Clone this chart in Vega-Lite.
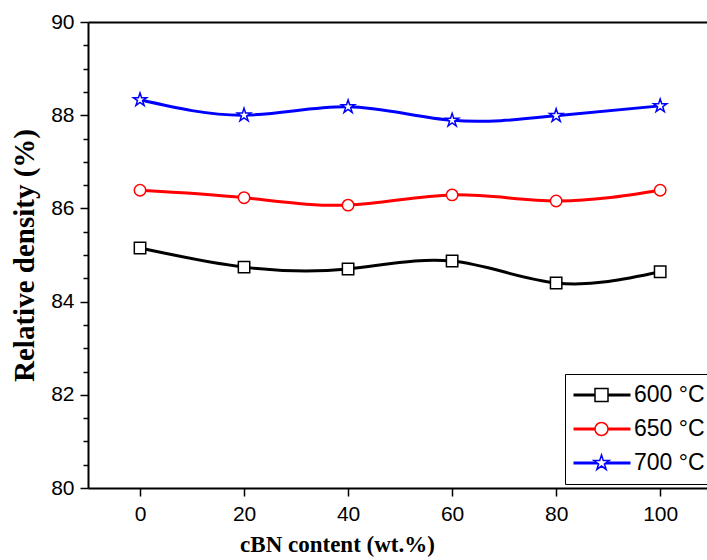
{
  "$schema": "https://vega.github.io/schema/vega-lite/v6.json",
  "width": 619,
  "height": 466,
  "autosize": {"type": "none"},
  "padding": {"left": 88, "top": 22, "right": 0, "bottom": 72},
  "background": "white",
  "config": {
    "view": {"stroke": null},
    "axis": {
      "domainColor": "black", "domainWidth": 2, "tickColor": "black", "tickWidth": 1.5,
      "labelColor": "black", "titleColor": "black", "labelFont": "Liberation Sans", "labelFontSize": 21,
      "titleFont": "Liberation Serif", "titleFontWeight": "bold", "grid": false
    }
  },
  "data": {
    "values": [
      {"cbn": 0, "density": 85.15, "temp": "600 °C"},
      {"cbn": 20, "density": 84.74, "temp": "600 °C"},
      {"cbn": 40, "density": 84.70, "temp": "600 °C"},
      {"cbn": 60, "density": 84.87, "temp": "600 °C"},
      {"cbn": 80, "density": 84.40, "temp": "600 °C"},
      {"cbn": 100, "density": 84.64, "temp": "600 °C"},
      {"cbn": 0, "density": 86.39, "temp": "650 °C"},
      {"cbn": 20, "density": 86.23, "temp": "650 °C"},
      {"cbn": 40, "density": 86.07, "temp": "650 °C"},
      {"cbn": 60, "density": 86.29, "temp": "650 °C"},
      {"cbn": 80, "density": 86.16, "temp": "650 °C"},
      {"cbn": 100, "density": 86.39, "temp": "650 °C"},
      {"cbn": 0, "density": 88.33, "temp": "700 °C"},
      {"cbn": 20, "density": 88.00, "temp": "700 °C"},
      {"cbn": 40, "density": 88.18, "temp": "700 °C"},
      {"cbn": 60, "density": 87.89, "temp": "700 °C"},
      {"cbn": 80, "density": 87.99, "temp": "700 °C"},
      {"cbn": 100, "density": 88.20, "temp": "700 °C"}
    ]
  },
  "layer": [
    {
      "mark": {"type": "line", "interpolate": "natural", "strokeWidth": 3},
      "encoding": {
        "x": {
          "field": "cbn", "type": "quantitative",
          "scale": {"domain": [-10, 109], "nice": false, "zero": false},
          "axis": {"orient": "bottom", "values": [0, 20, 40, 60, 80, 100], "tickSize": 8, "labelPadding": 7,
                   "title": "cBN content (wt.%)", "titleFontSize": 23, "titlePadding": 9, "titleX": 249, "titleAlign": "center"}
        },
        "y": {
          "field": "density", "type": "quantitative",
          "scale": {"domain": [80, 90], "nice": false, "zero": false},
          "axis": {
            "orient": "left",
            "values": [80, 80.5, 81, 81.5, 82, 82.5, 83, 83.5, 84, 84.5, 85, 85.5, 86, 86.5, 87, 87.5, 88, 88.5, 89, 89.5, 90],
            "labelExpr": "datum.value % 2 === 0 ? format(datum.value, 'd') : ''",
            "tickSize": {"condition": {"test": "datum.value % 2 === 0", "value": 8}, "value": 5},
            "labelPadding": 6,
            "title": "Relative density (%)", "titleFontSize": 29, "titlePadding": 11
          }
        },
        "stroke": {
          "field": "temp", "type": "nominal",
          "scale": {"domain": ["600 °C", "650 °C", "700 °C"], "range": ["#000000", "#ff0000", "#0000ff"]},
          "legend": {
            "orient": "none", "legendX": 477, "legendY": 352, "title": null, "direction": "vertical",
            "symbolType": "stroke", "symbolSize": 3249, "symbolStrokeWidth": 3, "clipHeight": 28,
            "rowPadding": 6, "padding": 7, "strokeColor": "black", "fillColor": "white",
            "labelFont": "Liberation Sans", "labelFontSize": 23, "labelColor": "black", "labelOffset": 2,
            "labelExpr": "datum.label + '\u00a0\u00a0\u00a0'"
          }
        }
      }
    },
    {
      "mark": {"type": "point", "filled": true, "fill": "white", "strokeWidth": 1.5, "size": 2500, "opacity": 1},
      "encoding": {
        "x": {
          "field": "cbn", "type": "quantitative",
          "axis": {"orient": "top", "labels": false, "ticks": false, "title": null, "domain": true}
        },
        "y": {"field": "density", "type": "quantitative", "axis": null},
        "stroke": {
          "field": "temp", "type": "nominal",
          "legend": {
            "orient": "none", "legendX": 477, "legendY": 352, "title": null, "direction": "vertical",
            "symbolSize": 3249, "symbolStrokeWidth": 1.5, "symbolFillColor": "white", "clipHeight": 28,
            "rowPadding": 6, "padding": 7, "labelFont": "Liberation Sans", "labelFontSize": 23,
            "labelColor": "black", "labelOpacity": 0, "labelOffset": 3
          }
        },
        "shape": {
          "field": "temp", "type": "nominal",
          "scale": {
            "domain": ["600 °C", "650 °C", "700 °C"],
            "range": [
              "M-0.228,-0.228H0.228V0.228H-0.228Z",
              "M0.228,0A0.228,0.228,0,1,1,-0.228,0A0.228,0.228,0,1,1,0.228,0Z",
              "M0,-0.28L0.0629,-0.0866L0.266,-0.0865L0.1018,0.0331L0.165,0.2265L0,0.107L-0.165,0.2265L-0.1018,0.0331L-0.266,-0.0865L-0.0629,-0.0866Z"
            ]
          },
          "legend": {
            "orient": "none", "legendX": 477, "legendY": 352, "title": null, "direction": "vertical",
            "symbolSize": 3249, "symbolStrokeWidth": 1.5, "symbolFillColor": "white", "clipHeight": 28,
            "rowPadding": 6, "padding": 7, "labelFont": "Liberation Sans", "labelFontSize": 23,
            "labelColor": "black", "labelOpacity": 0, "labelOffset": 3
          }
        }
      }
    }
  ],
  "resolve": {
    "axis": {"x": "independent", "y": "independent"},
    "legend": {"stroke": "independent", "shape": "independent"}
  }
}
